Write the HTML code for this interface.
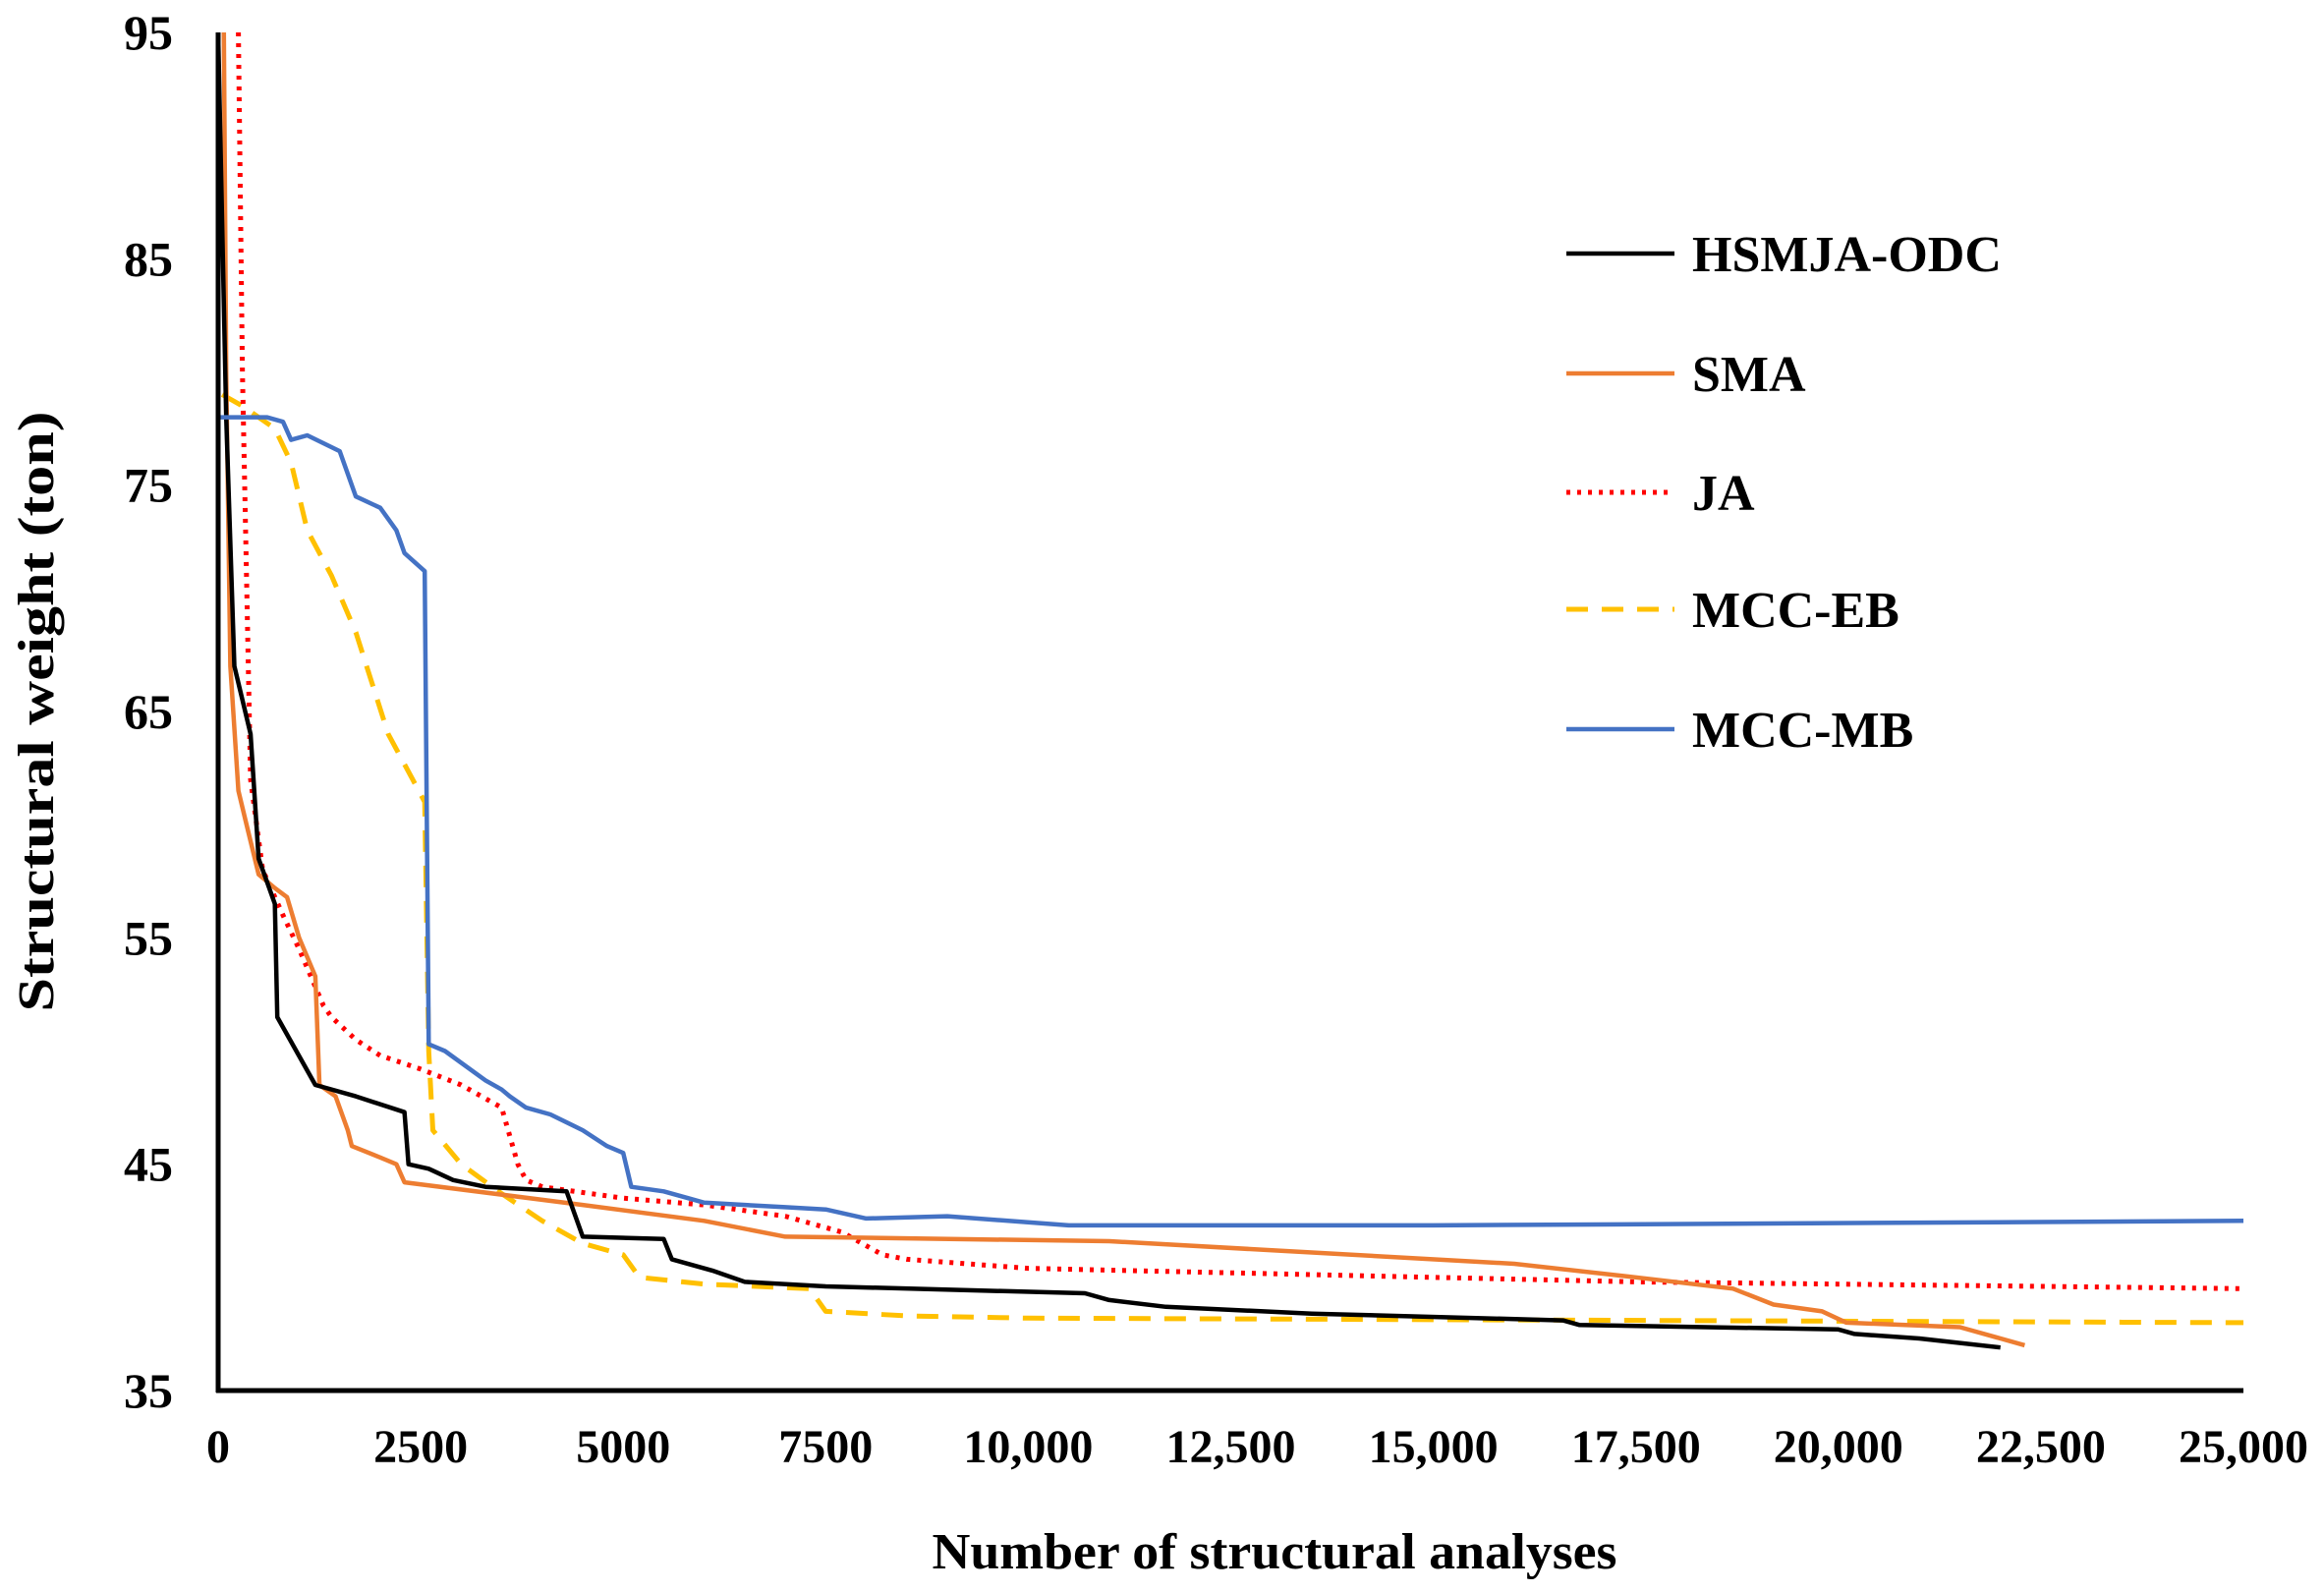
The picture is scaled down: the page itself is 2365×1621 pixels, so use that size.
<!DOCTYPE html>
<html><head><meta charset="utf-8"><style>
html,body{margin:0;padding:0;background:#fff;}
svg{display:block;}
text{font-family:"Liberation Serif",serif;font-weight:bold;fill:#000;}
</style></head><body>
<svg id="chart" width="2365" height="1621" viewBox="0 0 2365 1621" xmlns="http://www.w3.org/2000/svg">
<g id="plot"></g>
<g id="axes"></g>
<g id="legend"></g>
<text x="1297" y="1596" font-size="52" text-anchor="middle" textLength="697" lengthAdjust="spacingAndGlyphs">Number of structural analyses</text>
<text transform="translate(54,724) rotate(-90)" font-size="52" text-anchor="middle" textLength="611" lengthAdjust="spacingAndGlyphs">Structural weight (ton)</text>
</svg>
<script>
const xTicks = [0, 2500, 5000, 7500, 10000, 12500, 15000, 17500, 20000, 22500, 25000];
const xTickLabels = ["0","2500","5000","7500","10,000","12,500","15,000","17,500","20,000","22,500","25,000"];
const yTicks = [35, 45, 55, 65, 75, 85, 95];
const seriesNames = ["HSMJA-ODC","SMA","JA","MCC-EB","MCC-MB"];
const hsmjaX = [0,100,200,400,500,600,700,730,1200,1700,2300,2350,2600,2900,3300,4300,4500,5500,5600,6100,6500,7500,10700,11000,11700,13500,16600,16800,20000,20200,21000,22000];
const hsmjaY = [95,78,67,64,58.5,57.5,56.5,51.5,48.5,48,47.3,45,44.8,44.3,44,43.8,41.8,41.7,40.8,40.3,39.8,39.6,39.3,39.0,38.7,38.4,38.1,37.9,37.7,37.5,37.3,36.9];
const smaX = [70,100,150,250,350,500,700,850,1000,1200,1250,1450,1600,1650,2000,2200,2300,4500,6000,7000,11000,16000,17500,18700,19200,19800,20100,21500,22300];
const smaY = [95,80,67,61.5,60,57.8,57.2,56.8,55,53.3,48.5,48,46.5,45.8,45.3,45,44.2,43.2,42.5,41.8,41.6,40.6,40,39.5,38.8,38.5,38,37.8,37];
const jaX = [250,300,400,550,800,1000,1300,1400,1700,2000,2500,3000,3500,3700,3800,4000,5000,6000,7000,7700,8200,8500,10000,12500,15000,17500,25000];
const jaY = [95,80,62,58,56,54.5,52,51.5,50.5,49.8,49.2,48.5,47.5,45,44.3,44,43.5,43.2,42.7,42,41,40.8,40.4,40.2,40,39.8,39.5];
const ebX = [50,300,700,900,1100,1400,1700,2100,2400,2550,2600,2650,3000,3500,4000,4500,5000,5200,6000,7300,7500,8500,10000,25000];
const ebY = [79,78.5,77.5,76,73,71,68.5,64,62,61,50,46.5,45,43.7,42.5,41.5,41,40,39.7,39.5,38.5,38.3,38.2,38.0];
const mbX = [0,600,800,900,1100,1500,1700,2000,2200,2300,2550,2600,2800,3300,3500,3600,3800,4100,4500,4800,5000,5100,5500,5800,6000,7000,7500,8000,9000,10500,15000,25000];
const mbY = [78,78,77.8,77,77.2,76.5,74.5,74,73,72,71.2,50.3,50,48.7,48.3,48,47.5,47.2,46.5,45.8,45.5,44,43.8,43.5,43.3,43.1,43,42.6,42.7,42.3,42.3,42.5];

const NS="http://www.w3.org/2000/svg";
const X0=222, X1=2283, Y0=1415, Y1=33;
const sx = v => X0 + (v/25000)*(X1-X0);
const sy = v => Y0 - ((v-35)/60)*(Y0-Y1);
const plot=document.getElementById('plot'), axes=document.getElementById('axes'), legend=document.getElementById('legend');
function mk(tag, attrs, parent){const e=document.createElementNS(NS,tag);for(const k in attrs)e.setAttribute(k,attrs[k]);parent.appendChild(e);return e;}

const styles=[
 {c:"#000000",w:4.5,d:""},
 {c:"#ED7D31",w:4.5,d:""},
 {c:"#FF0000",w:5,d:"4 7"},
 {c:"#FFC000",w:5,d:"22 14"},
 {c:"#4472C4",w:4.5,d:""}
];
const xsAll=[hsmjaX,smaX,jaX,ebX,mbX], ysAll=[hsmjaY,smaY,jaY,ebY,mbY];
const order=[3,2,1,0,4];
order.forEach(i=>{
  const pts=xsAll[i].map((x,j)=>sx(x).toFixed(1)+","+sy(ysAll[i][j]).toFixed(1)).join(" ");
  const p=mk('polyline',{points:pts,fill:"none",stroke:styles[i].c,"stroke-width":styles[i].w,"stroke-dasharray":styles[i].d,"stroke-linejoin":"round"},plot);
  
  
});

const ya=mk('line',{x1:X0,y1:Y1,x2:X0,y2:Y0+2,stroke:"#000","stroke-width":5},axes);


const xa=mk('line',{x1:X0-2,y1:Y0,x2:X1,y2:Y0,stroke:"#000","stroke-width":5},axes);


yTicks.forEach(v=>{
  const t=mk('text',{x:176,y:sy(v)+17,"font-size":50,"text-anchor":"end"},axes);
  t.textContent=v;
  
  
});
xTicks.forEach((v,i)=>{
  const t=mk('text',{x:sx(v),y:1488,"font-size":48,"text-anchor":"middle"},axes);
  t.textContent=xTickLabels[i];
  
  
});
const legY=[258,380,501,620,742];
seriesNames.forEach((n,i)=>{
  const g=mk('g',{},legend);
  
  
  mk('line',{x1:1594,y1:legY[i],x2:1704,y2:legY[i],stroke:styles[i].c,"stroke-width":styles[i].w,"stroke-dasharray":styles[i].d},g);
  const t=mk('text',{x:1722,y:legY[i]+18,"font-size":52},g);
  t.textContent=n;
});
</script>
</body></html>
